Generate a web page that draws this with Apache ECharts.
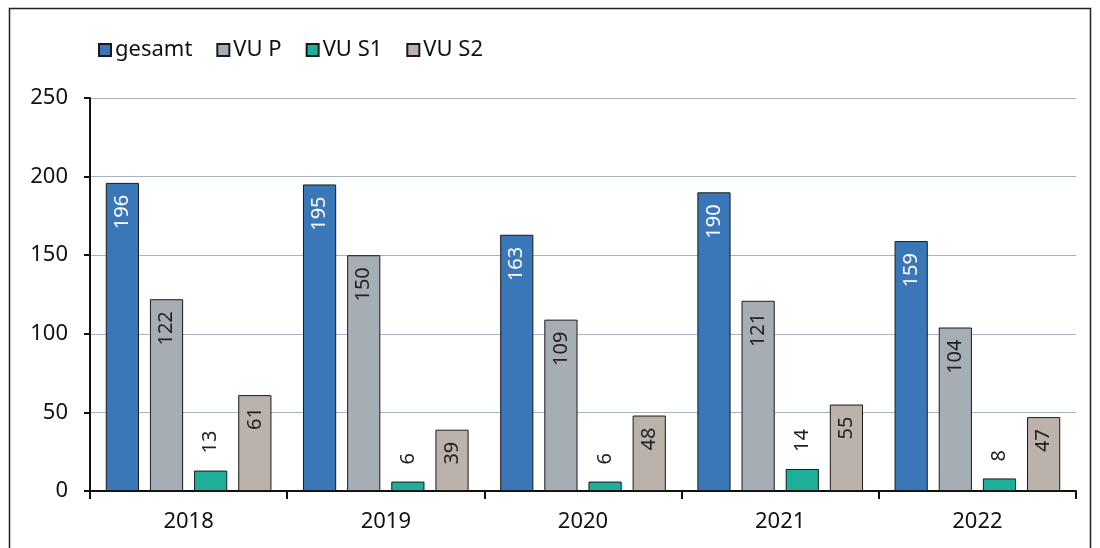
<!DOCTYPE html>
<html><head><meta charset="utf-8">
<script src="https://cdn.jsdelivr.net/npm/echarts@6/dist/echarts.min.js"></script>
<style>html,body{margin:0;padding:0;background:#fff}#c{width:1100px;height:548px}</style>
</head><body><div id="c"></div>
<script>
const categories = ['2018','2019','2020','2021','2022'];
const seriesNames = ['gesamt','VU P','VU S1','VU S2'];
const gesamt = [196,195,163,190,159];
const vuP = [122,150,109,121,104];
const vuS1 = [13,6,6,14,8];
const vuS2 = [61,39,48,55,47];
const yTicks = {min:0, max:250, interval:50};

const FONT = 'Noto Sans';
const colors = ['#3A77B8','#A6ADB5','#1DAF9A','#BBB3AB'];
function insideLabel(color){
  return {show:true, position:'insideTop', rotate:90, align:'right', verticalAlign:'middle',
    distance:12, color:color, fontSize:20, fontFamily:FONT};
}
function outsideLabel(){
  return {show:true, position:'top', rotate:90, align:'left', verticalAlign:'middle',
    distance:17, color:'#222', fontSize:20, fontFamily:FONT};
}
const datasets = [gesamt, vuP, vuS1, vuS2];
const labels = [insideLabel('#fff'), insideLabel('#222'), outsideLabel(), insideLabel('#222')];
const series = datasets.map((d,i)=>({
  name: seriesNames[i], type:'bar', data:d,
  barGap:'33%', barCategoryGap:'16%',
  itemStyle:{color:colors[i], borderColor:'#1a1a1a', borderWidth:1},
  label: labels[i],
  emphasis:{disabled:true}
}));

const chart = echarts.init(document.getElementById('c'));
chart.setOption({
  animation:false,
  graphic:[{type:'rect', shape:{x:9.5,y:8.5,width:1081,height:560}, style:{fill:null, stroke:'#222', lineWidth:1.5}, silent:true}],
  legend:{left:93, top:34, itemWidth:12, itemHeight:12, itemGap:24, icon:'rect',
    textStyle:{fontSize:22, fontFamily:FONT, color:'#111', padding:[0,0,0,-1]}, data:seriesNames},
  grid:{left:90, right:24, top:98, bottom:57},
  xAxis:{type:'category', data:categories,
    axisLine:{lineStyle:{color:'#111', width:2}},
    axisTick:{show:true, length:8, lineStyle:{color:'#111', width:2}},
    axisLabel:{fontSize:22, fontFamily:FONT, color:'#111', margin:20}},
  yAxis:{type:'value', min:yTicks.min, max:yTicks.max, interval:yTicks.interval,
    axisLine:{show:true, lineStyle:{color:'#111', width:2}},
    axisTick:{show:true, length:6, lineStyle:{color:'#111', width:2}},
    axisLabel:{fontSize:22, fontFamily:FONT, color:'#111', margin:22},
    splitLine:{lineStyle:{color:'#A9B3BF', width:1}}},
  series: series
});
</script></body></html>
